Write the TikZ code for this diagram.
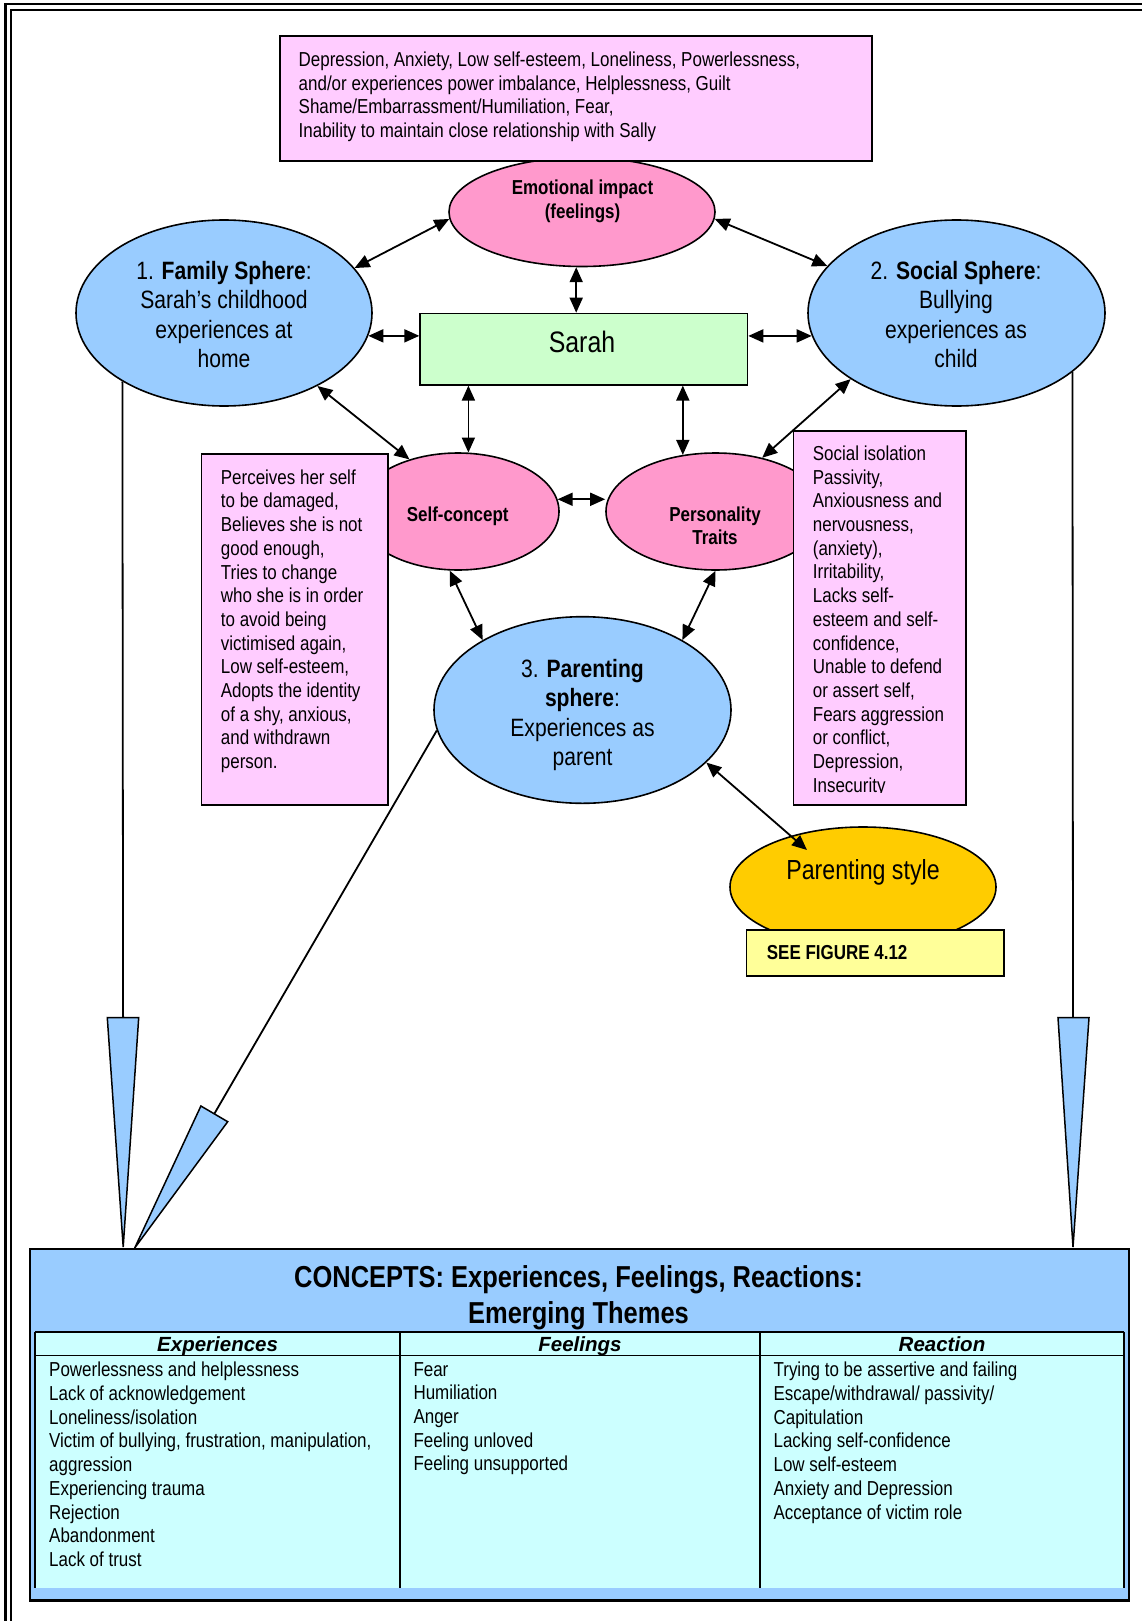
\documentclass[tikz,border=0pt]{standalone}
\usepackage{fontspec}
\setmainfont{Liberation Sans}[FakeStretch=0.84]
\newfontfamily\widesans{Liberation Sans}
\usetikzlibrary{shapes.geometric,arrows.meta}

\definecolor{pinkbox}{HTML}{FFCCFF}
\definecolor{rosefill}{HTML}{FF99CC}
\definecolor{skyfill}{HTML}{99CCFF}
\definecolor{mintfill}{HTML}{CCFFCC}
\definecolor{goldfill}{HTML}{FFCC00}
\definecolor{lemonfill}{HTML}{FFFF99}
\definecolor{cyanfill}{HTML}{CCFFFF}

\newcommand\bodysz{\fontsize{20.2pt}{23.7pt}\selectfont}
\newcommand\spheresz{\fontsize{25.1pt}{29.5pt}\selectfont}
\newcommand\namesz{\fontsize{29.6pt}{34pt}\selectfont}
\newcommand\stylesz{\fontsize{27.6pt}{32pt}\selectfont}
\newcommand\titlesz{\fontsize{30.3pt}{35.5pt}\selectfont}
\newcommand\headsz{\fontsize{20.5pt}{24pt}\selectfont}

\begin{document}
\begin{tikzpicture}[x=1pt,y=-1pt,
  oval/.style={ellipse,draw=black,line width=1.6pt,inner sep=0pt},
  panel/.style={rectangle,draw=black,line width=1.6pt,inner sep=0pt,anchor=north west},
  txt/.style={inner sep=0pt,align=left,anchor=north west,font=\bodysz},
  ctxt/.style={inner sep=0pt,align=center,anchor=north},
  link/.style={line width=1.8pt,{Triangle[length=15pt,width=13pt]}-{Triangle[length=15pt,width=13pt]}},
  feed/.style={line width=1.8pt},
  wedge/.style={fill=skyfill,draw=black,line width=1.5pt,line join=miter}
]
\useasboundingbox (0,0) rectangle (1142,1621);
\fill[white] (0,0) rectangle (1142,1621);

% page border (double rule on top and left)
\draw[line width=2.6pt] (5.5,1621) -- (5.5,4) -- (1142,4);
\draw[line width=1.8pt] (10.8,1621) -- (10.8,10) -- (1142,10);

% ---------- central cluster ----------
\node[oval,fill=rosefill,minimum width=266pt,minimum height=109pt] (emo) at (582,212) {};
\node[panel,fill=pinkbox,minimum width=592pt,minimum height=125pt] (effects) at (279,35) {};
\node[txt] (effectstext) at (298.5,51.7)
  {Depression, Anxiety, Low self-esteem, Loneliness, Powerlessness,\\
   and/or experiences power imbalance, Helplessness, Guilt\\
   Shame/Embarrassment/Humiliation, Fear,\\
   Inability to maintain close relationship with Sally};
\node[ctxt,font=\bodysz\bfseries] (emotext) at (582.5,180) {Emotional impact\\(feelings)};

\node[oval,fill=skyfill,minimum width=296pt,minimum height=186pt] (family) at (224,313) {};
\node[ctxt,font=\spheresz] (familytext) at (224,261)
  {1. \textbf{Family Sphere}:\\Sarah’s childhood\\experiences at\\home};

\node[oval,fill=skyfill,minimum width=297pt,minimum height=186pt] (social) at (956.5,313) {};
\node[ctxt,font=\spheresz] (socialtext) at (956,261)
  {2. \textbf{Social Sphere}:\\Bullying\\experiences as\\child};

\node[panel,fill=mintfill,minimum width=327.4pt,minimum height=71.3pt] (sarah) at (419.3,312.7) {};
\node[inner sep=0pt,anchor=base,font=\namesz] (sarahtext) at (582,352.3) {Sarah};

\node[oval,fill=rosefill,minimum width=202pt,minimum height=117pt] (selfc) at (458,511.5) {};
\node[inner sep=0pt,anchor=base,font=\bodysz\bfseries] (selfctext) at (457.7,521.3) {Self-concept};

\node[oval,fill=rosefill,minimum width=219pt,minimum height=117pt] (pers) at (715.5,511.5) {};
\node[ctxt,font=\bodysz\bfseries] (perstext) at (715,506.3) {Personality\\Traits};

% side boxes
\node[panel,fill=pinkbox,minimum width=186.6pt,minimum height=350.7pt] (selfbox) at (200.7,453.3) {};
\node[txt] (selfboxtext) at (220.7,469.4)
  {Perceives her self\\to be damaged,\\Believes she is not\\good enough,\\Tries to change\\who she is in order\\to avoid being\\victimised again,\\Low self-esteem,\\Adopts the identity\\of a shy, anxious,\\and withdrawn\\person.};

\node[panel,fill=pinkbox,minimum width=172.3pt,minimum height=374pt] (traitbox) at (792.7,430) {};
\begin{scope}
  \clip (792.7,430) rectangle (965,792.5);
  \node[txt] (traitboxtext) at (812.7,445.6)
    {Social isolation\\Passivity,\\Anxiousness and\\nervousness,\\(anxiety),\\Irritability,\\Lacks self-\\esteem and self-\\confidence,\\Unable to defend\\or assert self,\\Fears aggression\\or conflict,\\Depression,\\Insecurity};
\end{scope}

\node[oval,fill=skyfill,minimum width=297pt,minimum height=186.6pt] (parenting) at (582.5,710) {};
\node[ctxt,font=\spheresz] (parentingtext) at (582.5,659)
  {3. \textbf{Parenting}\\\textbf{sphere}:\\Experiences as\\parent};

\node[oval,fill=goldfill,minimum width=266pt,minimum height=120pt] (style) at (863,887) {};
\node[inner sep=0pt,anchor=base,font=\stylesz] (styletext) at (863,879.9) {Parenting style};
\node[panel,fill=lemonfill,minimum width=257.6pt,minimum height=46.4pt] (seefig) at (745.7,929) {};
\node[inner sep=0pt,anchor=base west,font=\bodysz\bfseries] (seefigtext) at (766.7,959.2) {SEE FIGURE 4.12};
\coordinate (styletip) at (807,850);

% ---------- two-way links ----------
\draw[link] (family.19) -- (emo.183.5);
\draw[link] (emo.357.4) -- (social.160.9);
\draw[link] (emo.264) -- (emo.264 |- sarah.north);
\draw[link] (family.351) -- (family.351 -| sarah.west);
\draw[link] (sarah.east |- social.189) -- (social.189);
\draw[link] (selfc.80 |- sarah.south) -- (selfc.80);
\draw[link] (pers.120 |- sarah.south) -- (pers.120);
\draw[link] (family.322) -- (selfc.133);
\draw[link] (social.212) -- (pers.49);
\draw[link] (selfc.7) -- (selfc.7 -| pers.west);
\draw[link] (selfc.262) -- (parenting.145);
\draw[link] (pers.south) -- (parenting.35);
\draw[link] (parenting.337.5) -- (styletip);

% ---------- feeds into the concepts panel ----------
\coordinate (wlA) at (107.3,1017.7);
\coordinate (wlB) at (138.7,1017.7);
\coordinate (wlTop) at (123.1,1017.7);
\coordinate (wlTip) at (123.2,1247);
\coordinate (wrA) at (1058,1017.7);
\coordinate (wrB) at (1089,1017.7);
\coordinate (wrTop) at (1073,1017.7);
\coordinate (wrTip) at (1073,1247);
\coordinate (wdA) at (200.9,1106);
\coordinate (wdB) at (227.7,1121.7);
\coordinate (wdTop) at (214.3,1113.8);
\coordinate (wdTip) at (134.7,1248);

\draw[feed] (family.214) -- (wlTop);
\draw[feed] (social.333.65) -- (wrTop);
\draw[feed] (parenting.188.4) -- (wdTop);
\draw[wedge] (wlA) -- (wlB) -- (wlTip) -- cycle;
\draw[wedge] (wrA) -- (wrB) -- (wrTip) -- cycle;
\draw[wedge] (wdA) -- (wdB) -- (wdTip) -- cycle;

% ---------- concepts panel ----------
\node[panel,fill=skyfill,line width=2.2pt,minimum width=1099.3pt,minimum height=351.8pt] (concepts) at (28.7,1247.5) {};
\node[ctxt,font=\titlesz\bfseries] (conceptstitle) at (578.5,1265.5)
  {CONCEPTS: Experiences, Feelings, Reactions:\\Emerging Themes};

\fill[cyanfill] (35.2,1331.7) rectangle (1124,1588);
\draw[line width=2pt] (35.2,1331.7) -- (1124,1331.7);
\draw[line width=1.5pt] (35.2,1355.7) -- (1124,1355.7);
\draw[line width=1.8pt] (35.2,1331.7) -- (35.2,1588);
\draw[line width=1.8pt] (400,1331.7) -- (400,1588);
\draw[line width=1.8pt] (760,1331.7) -- (760,1588);
\draw[line width=1.8pt] (1124,1331.7) -- (1124,1588);

\node[inner sep=0pt,anchor=base,font=\widesans\headsz\bfseries\itshape] (headexp) at (217.6,1351.3) {Experiences};
\node[inner sep=0pt,anchor=base,font=\widesans\headsz\bfseries\itshape] (headfeel) at (580,1351.3) {Feelings};
\node[inner sep=0pt,anchor=base,font=\widesans\headsz\bfseries\itshape] (headreact) at (942,1351.3) {Reaction};

\node[txt] (colexp) at (49,1362)
  {Powerlessness and helplessness\\Lack of acknowledgement\\Loneliness/isolation\\Victim of bullying, frustration, manipulation,\\aggression\\Experiencing trauma\\Rejection\\Abandonment\\Lack of trust};
\node[txt] (colfeel) at (413.3,1362)
  {Fear\\Humiliation\\Anger\\Feeling unloved\\Feeling unsupported};
\node[txt] (colreact) at (773.4,1362)
  {Trying to be assertive and failing\\Escape/withdrawal/ passivity/\\Capitulation\\Lacking self-confidence\\Low self-esteem\\Anxiety and Depression\\Acceptance of victim role};
\end{tikzpicture}
\end{document}
